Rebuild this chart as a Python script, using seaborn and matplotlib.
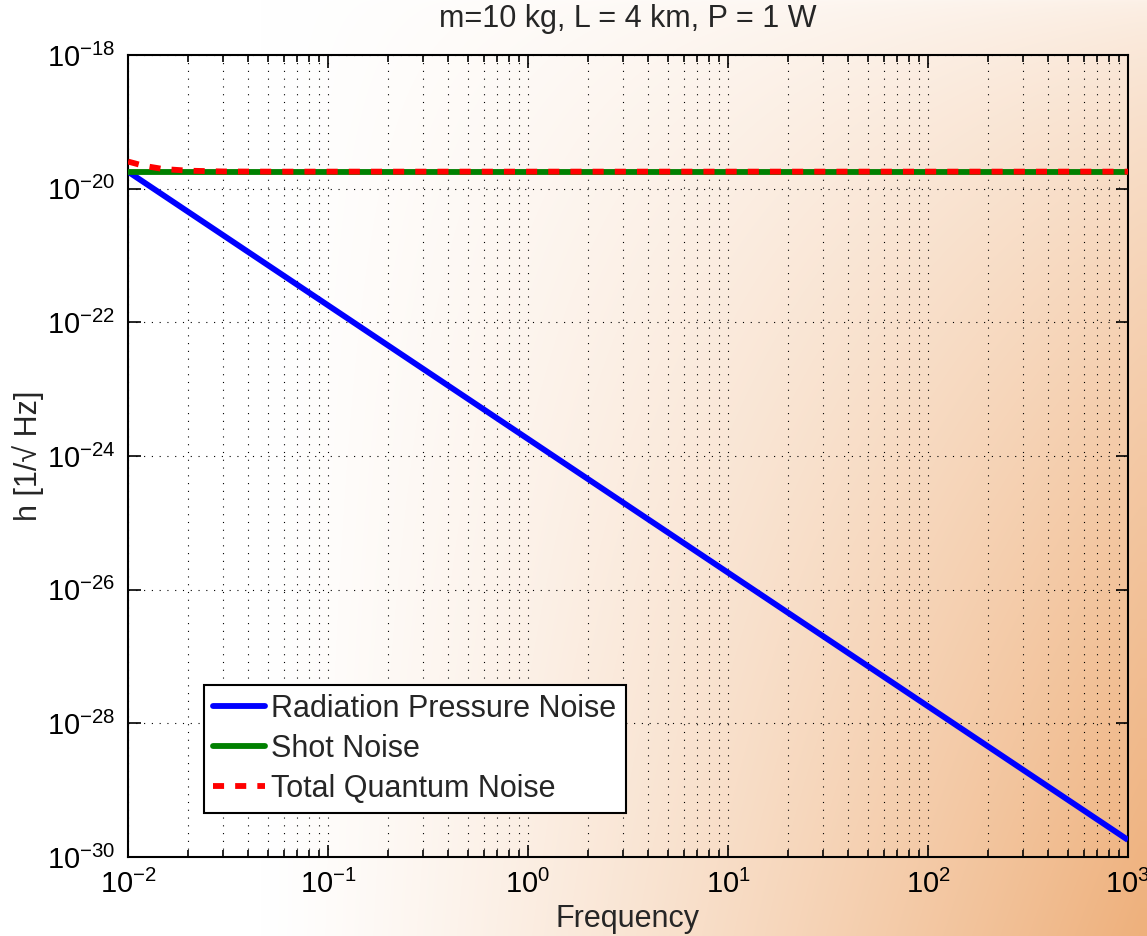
import numpy as np
import pandas as pd
import matplotlib
matplotlib.use("Agg")
import matplotlib.pyplot as plt
import matplotlib.ticker as mticker
import seaborn as sns

# Noise amplitude spectra (strain, 1/sqrt(Hz)) for m=10 kg, L=4 km, P=1 W
freq_rp = [0.01, 0.1, 1.0, 10.0, 100.0, 1000.0]
radiation_pressure = [1.8e-20, 1.8e-22, 1.8e-24, 1.8e-26, 1.8e-28, 1.8e-30]

freq_shot = [0.01, 1000.0]
shot = [1.8e-20, 1.8e-20]

freq_total = [0.01, 0.012, 0.015, 0.02, 0.03, 0.05, 1000.0]
total = [2.55e-20, 2.2e-20, 1.97e-20, 1.86e-20, 1.81e-20, 1.8e-20, 1.8e-20]

labels = ["Radiation Pressure Noise", "Shot Noise", "Total Quantum Noise"]
colors = ["#0000ff", "#008000", "#ff0000"]

df = pd.concat([
    pd.DataFrame({"f": freq_rp, "h": radiation_pressure, "series": labels[0]}),
    pd.DataFrame({"f": freq_shot, "h": shot, "series": labels[1]}),
    pd.DataFrame({"f": freq_total, "h": total, "series": labels[2]}),
], ignore_index=True)

sns.set_style("ticks")
plt.rcParams["font.family"] = ["Liberation Sans", "DejaVu Sans"]
plt.rcParams["mathtext.default"] = "regular"

W, H = 1147, 936
fig = plt.figure(figsize=(W / 100, H / 100), dpi=100)

# Soft peach backdrop, white on the left and deepening toward the lower right
bg = fig.add_axes([0, 0, 1, 1], zorder=-10)
yy, xx = np.mgrid[0:H, 0:W]
sx = np.clip((xx - 260) / 880.0, 0, 1) ** 1.25
sy = 0.15 + 0.72 * (yy / H) ** 0.65
a = (sx * sy)[..., None]
white = np.array([1.0, 1.0, 1.0])
peach = np.array([236, 165, 105]) / 255.0
img = white * (1 - a) + peach * a
bg.imshow(img, aspect="auto", extent=[0, 1, 0, 1], origin="upper")
bg.set_axis_off()

ax = fig.add_axes([0.1116, 0.0844, 0.8718, 0.8568])
ax.set_facecolor("none")

LW = 4.2
sns.lineplot(data=df, x="f", y="h", hue="series", hue_order=labels,
             palette=colors, linewidth=LW, ax=ax, legend=False,
             estimator=None, sort=False)
lines = ax.get_lines()
dash = (0, (1.9, 1.9))
lines[2].set_linestyle(dash)
for ln in lines:
    ln.set_solid_capstyle("butt")
    ln.set_dash_capstyle("butt")
lines[0].set_zorder(3)
lines[1].set_zorder(4)
lines[2].set_zorder(5)

ax.set_xscale("log")
ax.set_yscale("log")
ax.set_xlim(1e-2, 1e3)
ax.set_ylim(1e-30, 1e-18)

ax.xaxis.set_major_locator(mticker.LogLocator(base=10, numticks=20))
ax.xaxis.set_minor_locator(mticker.LogLocator(base=10, subs=np.arange(2, 10), numticks=20))
ax.xaxis.set_minor_formatter(mticker.NullFormatter())
ax.yaxis.set_major_locator(mticker.FixedLocator([10.0 ** e for e in range(-30, -17, 2)]))
ax.yaxis.set_minor_locator(mticker.NullLocator())

ax.grid(True, which="major", axis="both", color="black", linestyle=(0, (1, 6)), linewidth=0.8)
ax.grid(True, which="minor", axis="x", color="black", linestyle=(0, (1, 6)), linewidth=0.8)

ax.tick_params(which="both", direction="in", top=True, right=True, labelsize=21,
               width=1.2, colors="black", pad=9)
ax.tick_params(which="major", length=9)
ax.tick_params(which="minor", length=5)
for sp in ax.spines.values():
    sp.set_linewidth(1.5)
    sp.set_color("black")

ax.set_title("m=10 kg, L = 4 km, P = 1 W", fontsize=22, pad=20)
ax.set_xlabel("Frequency", fontsize=22, labelpad=4)
ax.set_ylabel("h [1/\u221a Hz]", fontsize=22, labelpad=2)

handles = [plt.Line2D([], [], color=colors[0], lw=LW),
           plt.Line2D([], [], color=colors[1], lw=LW),
           plt.Line2D([], [], color=colors[2], lw=LW, linestyle=dash)]
leg = ax.legend(handles, labels, loc="lower left", bbox_to_anchor=(0.076, 0.055),
                fontsize=22, frameon=True, fancybox=False, framealpha=1,
                edgecolor="black", handlelength=1.7, handletextpad=0.2,
                labelspacing=0.32, borderpad=0.3, borderaxespad=0)
leg.get_frame().set_linewidth(1.5)

fig.savefig("out.png", dpi=100)
